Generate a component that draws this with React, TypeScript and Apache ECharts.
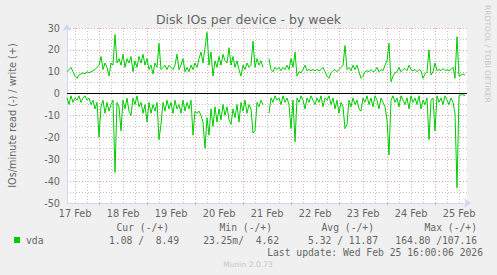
import React, { useEffect, useRef } from 'react';
import * as echarts from 'echarts';

// Time axis: one slot per hour, from 17 Feb 08:00 (hour 8) to 25 Feb 16:00 (hour 208)
const dayLabels = ['17 Feb', '18 Feb', '19 Feb', '20 Feb', '21 Feb', '22 Feb', '23 Feb', '24 Feb', '25 Feb'];
const firstHour = 8;
const slotCount = 201;

// IOs/minute written (+), one value per hour
const writeValues: (number | null)[] = [
  10, 11, 12, 10, 8, 7, 8.5, 9, 9.5, 9, 10, 9.5, 10, 10.5, 11, 12, 13, 17, 11, 14,
  12, 8, 14, 13, 27, 14, 16, 13, 18, 12, 16, 14, 17, 10, 15, 12, 17, 14, 18, 13,
  16, 11, 13, 9, 14, 12, 23, 11, 12, 13, 11, 13, 12, 11, 13, 18, 11, 13, 16, 10,
  12, 10, 13, 11, 14, 12, 16, 19, 14, 21, 28, 13, 19, 8, 15, 12, 17, 13, 18, 15,
  14, 21, 13, 17, 12, 15, 11, 8, 13, 11, 14, 12, 13, 24, 12, 16, 13, 15, 12, null,
  null, 16, 11, 10, 12, 11, 12, 10.5, 12, 11, 13, 11, 16, 12, 19, 8, 10, 9.5, 11, 13,
  10.5, 11, 10.5, 11, 10.5, 11, 10.5, 11, 12, 10, 8, 7, 9.5, 10.5, 11, 10, 11, 12, 13, 22,
  11, 12, 10.5, 13, 11, 13, 10, 7, 8, 10, 10.5, 10, 11, 10, 10.5, 12, 10, 11, 10.5, 13,
  15, 23, 5.5, 8, 9.5, 10, 12, 10, 11, 11.5, 10.5, 13, 11, 10.5, 11, 10, 11, 10.5, 7, 9,
  10, 20, 8.5, 10, 14, 10.5, 11, 10.5, 11.5, 10.5, 11, 10.5, 11, 12, 7, 26, 8, 8.5, 9, 8.5,
];

// IOs/minute read (-), one value per hour
const readValues: (number | null)[] = [
  2, 5, 1, 4, 2, 3, 1, 4, 2, 1, 3, 2, 5, 3, 7, 4, 20, 6, 3, 9,
  4, 8, 5, 3, 36, 4, 6, 17, 3, 7, 2, 8, 10, 2, 5, 1, 6, 4, 9, 5,
  13, 4, 9, 5, 8, 4, 21, 14, 4, 8, 3, 7, 4, 9, 3, 7, 5, 9, 3, 8,
  4, 7, 3, 19, 8, 9, 8, 10, 13, 25, 11, 19, 7, 15, 6, 13, 7, 12, 5, 10,
  6, 12, 14, 7, 11, 5, 13, 4, 8, 3, 9, 5, 7, 18, 17, 4, 6, 3, 5, null,
  null, 9, 2, 4, 1, 3, 2, 5, 1, 4, 2, 5, 16, 3, 22, 2, 4, 1, 3, 7,
  2, 4, 1, 3, 5, 2, 4, 1, 6, 2, 3, 1, 5, 2, 7, 3, 9, 4, 6, 16,
  14, 3, 6, 2, 5, 3, 7, 8, 2, 4, 1, 5, 2, 6, 1, 3, 7, 2, 4, 6,
  12, 28, 3, 1, 4, 2, 6, 1, 3, 5, 2, 7, 1, 4, 2, 5, 1, 7, 3, 5,
  2, 21, 3, 2, 17, 1, 4, 2, 5, 1, 3, 5, 2, 4, 9, 43, 1, 0.5, 0.5, 1,
];

const legendHeaders = ['Cur (-/+)', 'Min (-/+)', 'Avg (-/+)', 'Max (-/+)'];
const legendValues = ['1.08 /  8.49', '23.25m/  4.62', '5.32 / 11.87', '164.80 /107.16'];
const seriesName = 'vda';
const lastUpdate = 'Last update: Wed Feb 25 16:00:06 2026';

const FONT = '#666666';
const GREEN = '#00CC00';
const MGRID = '#E9A0A0';
const GRID = '#C4C4C4';
const AXIS = '#CFD6F8';

export default function App() {
  const ref = useRef<HTMLDivElement>(null);
  useEffect(() => {
    if (!ref.current) return;
    const chart = echarts.init(ref.current, undefined, { renderer: 'svg' });
    const categories = Array.from({ length: slotCount }, (_, j) => {
      const h = firstHour + j;
      return dayLabels[Math.min(dayLabels.length - 1, Math.floor(h / 24))];
    });
    const isMidnight = (i: number) => (firstHour + i) % 24 === 0;
    const isNoon = (i: number) => (firstHour + i) % 24 === 12;
    const isMinor = (i: number) => (firstHour + i) % 6 === 0 && !isMidnight(i);
    const sansText = (size: number) => `${size}px "DejaVu Sans"`;
    const monoText = `9.7px "DejaVu Sans Mono"`;
    const txt = (x: number, y: number, text: string, font: string, fill: string, align: string, extra: any = {}) => ({
      type: 'text',
      x,
      y,
      silent: true,
      ...extra,
      style: { text, font, fill, align, textAlign: align, verticalAlign: 'middle', textVerticalAlign: 'middle' },
    });
    const legendHeaderRight = [169, 272, 374, 477];
    const legendValueRight = [179, 279, 378, 477];

    chart.setOption({
      animation: false,
      backgroundColor: '#F0F0F0',
      grid: {
        left: 67,
        right: 30,
        top: 28,
        bottom: 72,
        show: true,
        backgroundColor: '#FFFFFF',
        borderWidth: 0,
      },
      xAxis: [
        {
          type: 'category',
          data: categories,
          boundaryGap: false,
          axisLine: {
            show: true,
            onZero: false,
            symbol: ['none', 'arrow'],
            symbolSize: [7, 7],
            symbolOffset: [0, 4],
            lineStyle: { color: AXIS, width: 1 },
          },
          axisTick: { show: true, interval: (i: number) => isMidnight(i), length: 2, lineStyle: { color: MGRID } },
          axisLabel: {
            interval: (i: number) => isNoon(i),
            color: FONT,
            fontSize: 9.7,
            fontFamily: 'DejaVu Sans',
            margin: 5,
          },
          splitLine: { show: true, interval: (i: number) => isMidnight(i), lineStyle: { color: MGRID, type: [1, 2], width: 1 } },
          z: 1,
        },
        {
          type: 'category',
          data: categories,
          boundaryGap: false,
          axisLine: { show: false },
          axisTick: { show: false },
          axisLabel: { show: false },
          splitLine: { show: true, interval: (i: number) => isMinor(i), lineStyle: { color: GRID, type: [1, 2], width: 1 } },
        },
      ],
      yAxis: {
        type: 'value',
        min: -50,
        max: 30,
        interval: 10,
        axisLine: {
          show: true,
          symbol: ['none', 'arrow'],
          symbolSize: [7, 7],
          symbolOffset: [0, 4],
          lineStyle: { color: AXIS, width: 1 },
        },
        axisTick: { show: false },
        axisLabel: { color: FONT, fontSize: 9.7, fontFamily: 'DejaVu Sans', margin: 7 },
        splitLine: { show: true, lineStyle: { color: MGRID, type: [1, 2], width: 1 } },
        minorTick: { show: false, splitNumber: 2 },
        minorSplitLine: { show: true, lineStyle: { color: GRID, type: [1, 2], width: 1 } },
      },
      series: [
        {
          name: seriesName + ' read',
          type: 'line',
          xAxisIndex: 0,
          data: readValues.map((v) => (v == null ? null : -v)),
          showSymbol: false,
          connectNulls: false,
          lineStyle: { color: GREEN, width: 1 },
          itemStyle: { color: GREEN },
          z: 3,
          markLine: {
            silent: true,
            symbol: 'none',
            label: { show: false },
            lineStyle: { color: '#000000', type: 'solid', width: 1 },
            data: [{ yAxis: 0 }],
            z: 4,
          },
        },
        {
          name: seriesName + ' write',
          type: 'line',
          xAxisIndex: 0,
          data: writeValues,
          showSymbol: false,
          connectNulls: false,
          lineStyle: { color: GREEN, width: 1 },
          itemStyle: { color: GREEN },
          z: 3,
        },
      ],
      graphic: [
        txt(248.5, 19.5, 'Disk IOs per device - by week', sansText(12.5), FONT, 'center'),
        txt(12, 115.5, 'IOs/minute read (-) / write (+)', sansText(9.7), FONT, 'center', { rotation: Math.PI / 2 }),
        txt(487, 5, 'RRDTOOL / TOBI OETIKER', sansText(7.6), '#C6C6C6', 'left', { rotation: -Math.PI / 2 }),
        ...legendHeaders.map((h, k) => txt(legendHeaderRight[k], 227, h, monoText, FONT, 'right')),
        {
          type: 'rect',
          silent: true,
          shape: { x: 14, y: 237, width: 6, height: 6 },
          style: { fill: GREEN },
        },
        txt(26, 240, seriesName, monoText, FONT, 'left'),
        ...legendValues.map((v, k) => txt(legendValueRight[k], 240, v, monoText, FONT, 'right')),
        txt(483, 252, lastUpdate, monoText, FONT, 'right'),
        txt(248, 264.5, 'Munin 2.0.73', sansText(7.6), '#C6C6C6', 'center'),
      ],
    });
    return () => chart.dispose();
  }, []);
  return (
    <div
      ref={ref}
      style={{ position: 'fixed', left: 0, top: 0, width: 497, height: 275 }}
    />
  );
}
